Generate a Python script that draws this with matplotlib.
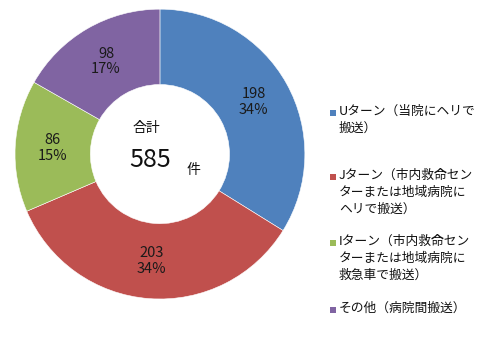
import matplotlib
matplotlib.use("Agg")
import matplotlib.pyplot as plt
from matplotlib.patches import Rectangle

plt.rcParams["font.family"] = ["Noto Sans CJK JP", "DejaVu Sans"]

# 搬送件数の内訳
labels = [
    "Uターン（当院にヘリで\n搬送）",
    "Jターン（市内救命セン\nターまたは地域病院に\nヘリで搬送）",
    "Iターン（市内救命セン\nターまたは地域病院に\n救急車で搬送）",
    "その他（病院間搬送）",
]
counts = [198, 203, 86, 98]
percents = [34, 34, 15, 17]
colors = ["#4F81BD", "#C0504D", "#9BBB59", "#8064A2"]
total = sum(counts)

fig = plt.figure(figsize=(4.81, 3.39), dpi=100)
ax = fig.add_axes([0.031, 0.118, 0.603, 0.855])

wedges, texts = ax.pie(
    counts,
    colors=colors,
    startangle=90,
    counterclock=False,
    radius=1.0,
    labels=[f"{c}\n{p}%" for c, p in zip(counts, percents)],
    labeldistance=0.74,
    wedgeprops=dict(width=0.52, edgecolor="white", linewidth=0.4),
    textprops=dict(fontsize=10.5, color="#1a1a1a", ha="center", va="center",
                   linespacing=1.1),
)
for t in texts:
    t.set_horizontalalignment("center")
ax.set_xlim(-1, 1)
ax.set_ylim(-1, 1)
ax.set_aspect("equal")

# 中央の合計
ax.text(-0.09, 0.18, "合計", ha="center", va="center", fontsize=10, color="#111111")
ax.text(-0.07, -0.04, f"{total}", ha="center", va="center", fontsize=18, color="#111111")
ax.text(0.23, -0.11, "件", ha="center", va="center", fontsize=10, color="#111111")

# 凡例
legend_y = [113, 177, 243, 310]
for lab, col, y in zip(labels, colors, legend_y):
    fy = 1 - y / 339
    fig.patches.append(Rectangle((330 / 481, fy - 2.8 / 339), 5.5 / 481, 5.5 / 339,
                                 transform=fig.transFigure, facecolor=col,
                                 edgecolor="none"))
    fig.text(339 / 481, fy + 8.5 / 339, lab, ha="left", va="top", fontsize=9.2,
             color="#111111", linespacing=1.4)

fig.savefig("out.png", dpi=100)
